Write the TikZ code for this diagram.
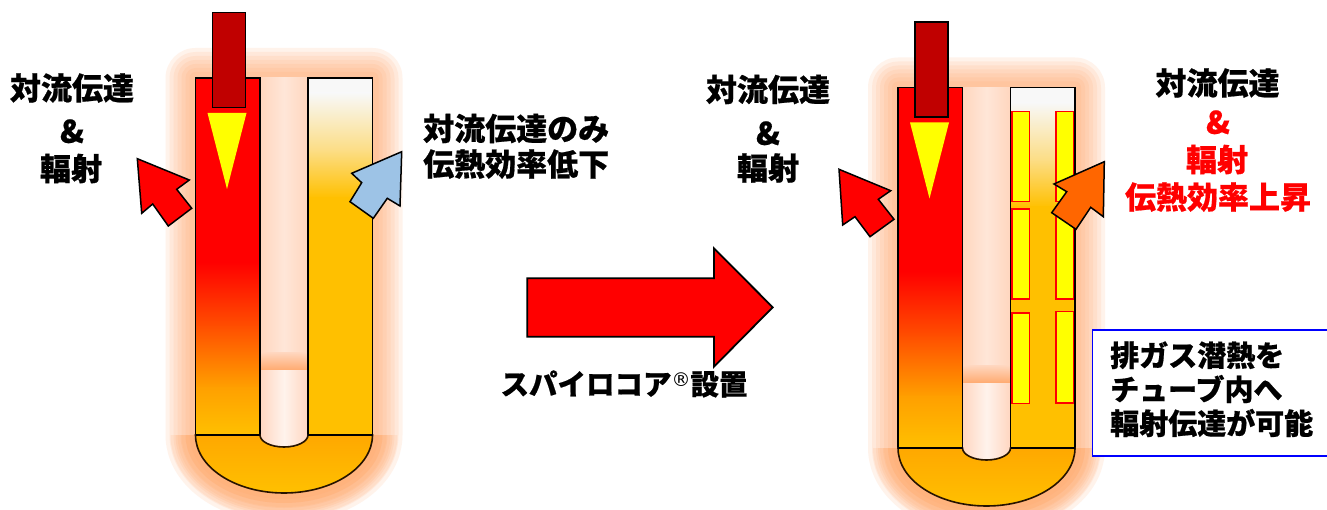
\documentclass[tikz,border=0pt]{standalone}
\usepackage{fontspec}
\setmainfont{Noto Sans CJK JP}[BoldFeatures={FakeBold=0.6}]
\newfontfamily\markfont{DejaVu Sans}
\definecolor{pipered}{HTML}{C00000}
\definecolor{hotred}{HTML}{FF0000}
\definecolor{hotmid}{HTML}{FF5000}
\definecolor{hotlow}{HTML}{FFA000}
\definecolor{gold}{HTML}{FFC000}
\definecolor{paleyel}{HTML}{FCDC80}
\definecolor{offwhite}{HTML}{F8F8F8}
\definecolor{glowc}{HTML}{FFA468}
\definecolor{gapc}{HTML}{FFD6BE}
\definecolor{gapmid}{HTML}{FFE6D8}
\definecolor{bandc}{HTML}{FFAA70}
\definecolor{lowgap}{HTML}{FFD6C0}
\definecolor{ucore}{HTML}{FF9C50}
\definecolor{bendtop}{HTML}{FFA800}
\definecolor{flameyel}{HTML}{FFFF00}
\definecolor{skyblue}{HTML}{9DC3E6}
\definecolor{flame}{HTML}{FF6600}
\definecolor{notebl}{HTML}{0000FF}

% one U-shaped heat tube: #1 = left edge, #2 = top, #3 = bottom of the straight legs
\newcommand{\utubebody}[3]{%
  % soft glow round the whole tube
  \foreach \w in {60,52,44,36,28,20,12}
    \draw[glowc, line width=\w pt, opacity=0.13, line join=round]
      (#1,#2) -- ({#1+177},#2) -- ({#1+177},#3)
      arc[start angle=0,end angle=180,x radius=88.5,y radius=58] -- cycle;
  \fill[gapc] (#1,#2) -- ({#1+177},#2) -- ({#1+177},#3)
      arc[start angle=0,end angle=180,x radius=88.5,y radius=58] -- cycle;
  % warmer glow under the bend
  \begin{scope}
    \clip (0,#3) rectangle (1327,510);
    \foreach \w in {50,40,30,20}
      \draw[ucore, line width=\w pt, opacity=0.12, line join=round]
        (#1,#3) -- ({#1+177},#3)
        arc[start angle=0,end angle=180,x radius=88.5,y radius=58] -- cycle;
  \end{scope}
  % gap between the legs, with its band
  \shade[left color=gapc, right color=gapc, middle color=gapmid]
    ({#1+64.5},#2) rectangle ({#1+112.5},{#3-82});
  \shade[top color=gapc, bottom color=bandc] ({#1+64.5},{#3-82.5}) rectangle ({#1+112.5},{#3-65});
  \shade[left color=lowgap, right color=lowgap, middle color=white!70!lowgap]
    ({#1+64.5},{#3-65}) rectangle ({#1+112.5},{#3+13});
  % hot (left) leg
  \fill[hotred] (#1,#2) rectangle ({#1+64.5},{#2+185});
  \shade[top color=hotred, bottom color=hotmid] (#1,{#2+184}) rectangle ({#1+64.5},{#2+250});
  \shade[top color=hotmid, bottom color=hotlow] (#1,{#2+249}) rectangle ({#1+64.5},{#2+310});
  \shade[top color=hotlow, bottom color=gold] (#1,{#2+309}) rectangle ({#1+64.5},#3);
  \draw[outline] (#1,#2) rectangle ({#1+64.5},#3);
  % return (right) leg
  \fill[offwhite] ({#1+112.5},#2) rectangle ({#1+177},{#2+16});
  \shade[top color=offwhite, bottom color=paleyel] ({#1+112.5},{#2+15}) rectangle ({#1+177},{#2+75});
  \shade[top color=paleyel, bottom color=gold] ({#1+112.5},{#2+74}) rectangle ({#1+177},{#2+120});
  \fill[gold] ({#1+112.5},{#2+119}) rectangle ({#1+177},#3);
  \draw[outline] ({#1+112.5},#2) rectangle ({#1+177},#3);
  % bend
  \shade[top color=bendtop, bottom color=gold, draw=black!85!orange, line width=1.6pt]
    (#1,#3) -- ({#1+64.5},#3)
    arc[start angle=180,end angle=0,x radius=24,y radius=12] -- ({#1+177},#3)
    arc[start angle=0,end angle=180,x radius=88.5,y radius=58] -- cycle;
  \draw[outline] (#1,#3) -- ({#1+64.5},#3) ({#1+112.5},#3) -- ({#1+177},#3);
  % burner pipe and flame
  \draw[outline, fill=pipered] ({#1+17},{#2-65.5}) rectangle ({#1+50},{#2+29.5});
  \fill[flameyel] ({#1+12},{#2+35}) -- ({#1+51},{#2+35}) -- ({#1+31.5},{#2+111}) -- cycle;
}

\begin{document}
\begin{tikzpicture}[x=1pt,y=-1pt,
  outline/.style={draw=black, line width=1.8pt},
  blockarrow/.style={draw=black, line width=1.5pt, line join=miter},
  lbl/.style={font=\bfseries\fontsize{31}{31}\selectfont, inner sep=0pt,
    text height=0.88em, text depth=0.12em},
  boxlbl/.style={font=\bfseries\fontsize{29}{29}\selectfont, inner sep=0pt,
    text height=0.88em, text depth=0.12em, anchor=west},
  coreinsert/.style={fill=flameyel, draw=hotred, line width=1.6pt, opacity=1}]
\useasboundingbox (0,0) rectangle (1327,510);
\clip (0,0) rectangle (1327,510);
\fill[white] (0,0) rectangle (1327,510);

% tube without the core
\utubebody{195.5}{78}{435}
\draw[blockarrow, fill=hotred] (137.3,158.7) -- (189.3,180) -- (176.7,189.3) -- (191.7,208.3)
  -- (168.3,226) -- (152.7,204) -- (141.7,213.3) -- cycle;
\draw[blockarrow, fill=skyblue] (401.7,151.7) -- (351.7,173.3) -- (361.7,182.7) -- (350,201.7)
  -- (373.3,218.3) -- (387.3,198.3) -- (400,206) -- cycle;

% tube with the core inserts
\utubebody{898}{87.5}{448}
\draw[coreinsert] (1011.7,111.7) rectangle (1029.3,201.7);
\draw[coreinsert] (1055.7,111.7) rectangle (1073.5,201.7);
\draw[coreinsert] (1011.7,209.3) rectangle (1029.3,299);
\draw[coreinsert] (1055.7,209.3) rectangle (1073.5,299);
\draw[coreinsert] (1011.7,313.3) rectangle (1029.3,403.3);
\draw[coreinsert] (1055.7,311.7) rectangle (1073.5,402.7);
\draw[blockarrow, fill=hotred] (839,169.3) -- (890.7,190.7) -- (878.3,199.3) -- (894,219.3)
  -- (870,236.7) -- (855,216.7) -- (842.7,225) -- cycle;
\draw[blockarrow, fill=flame] (1104.3,161.7) -- (1054,184) -- (1066.7,191.7) -- (1051.7,212.7)
  -- (1076,229.3) -- (1090.7,207.3) -- (1103.3,216.7) -- cycle;

% central transition arrow
\draw[blockarrow, line width=1.8pt, fill=hotred] (527.3,278.3) -- (714,278.3) -- (714,248.3)
  -- (772.7,307.3) -- (714,366.7) -- (714,336.7) -- (527.3,336.7) -- cycle;
\node[lbl, font=\bfseries\fontsize{28.5}{28.5}\selectfont] (install) at (624,391)
  {スパイロコア{\markfont\mdseries\fontsize{19}{19}\selectfont\raisebox{8pt}{®}}設置};

% labels, left tube
\node[lbl] (l1) at (72,96) {対流伝達};
\node[lbl] (l2) at (72,139) {\&};
\node[lbl] (l3) at (71,176.5) {輻射};
\node[lbl, anchor=west] (l4) at (423,136.5) {対流伝達のみ};
\node[lbl, anchor=west] (l5) at (423,172) {伝熱効率低下};

% labels, right tube
\node[lbl] (r1) at (768,97.5) {対流伝達};
\node[lbl] (r2) at (768,141) {\&};
\node[lbl] (r3) at (768,176) {輻射};
\node[lbl] (r4) at (1217.5,91) {対流伝達};
\node[lbl, text=hotred] (r5) at (1218,130) {\&};
\node[lbl, text=hotred] (r6) at (1217,167.5) {輻射};
\node[lbl, text=hotred] (r7) at (1218,205) {伝熱効率上昇};

% note box
\draw[draw=notebl, line width=1.3pt, fill=white] (1092.3,330) rectangle (1340,456);
\node[boxlbl] (b1) at (1110,362.5) {排ガス潜熱を};
\node[boxlbl] (b2) at (1110,396.5) {チューブ内へ};
\node[boxlbl] (b3) at (1110,430.5) {輻射伝達が可能};
\end{tikzpicture}
\end{document}
